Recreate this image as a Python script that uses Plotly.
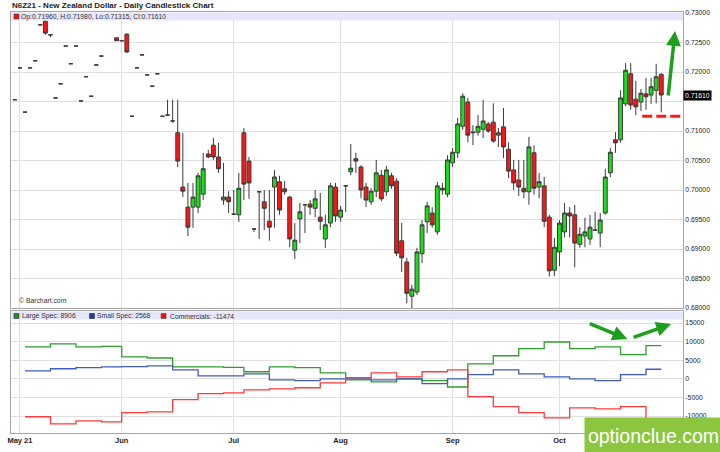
import pandas as pd
import plotly.graph_objects as go

# ---------------- data ----------------
holidays = ['2021-05-31', '2021-07-05', '2021-09-06']
dates = [d.strftime('%Y-%m-%d') for d in pd.bdate_range('2021-04-30', '2021-10-29')
         if d.strftime('%Y-%m-%d') not in holidays]

open_ = [.7153, .7207, .7132, .7207, .7219, .7280, .7286, .7263, .7156, .7180,
         .7244, .7214, .7244, .7151, .7192, .7159, .7212, .7227, None, None,
         .7258, .7253, .7264, .7125, .7207, .7229, .7195, .7176, .7197, .7125,
         .7127, .7117, .7097, .7005, .6971, .6971, .6971, .6993, .7061, .7076,
         .7056, .6983, .6988, .6959, .6958, .7097, .7049, .6934, .6997, .6980,
         .6947, .7005, .7014, .7002, .6988, .6898, .6951, .6975, .6976, .6969,
         .6954, .6917, .6944, .7005, .6954, .7007, .7031, .7053, .7039, .7005,
         .6980, .6998, .7025, .6997, .7024, .7015, .6914, .6878, .6820, .6827,
         .6892, .6946, .6961, .6929, .7003, .6993, .7046, .7063, .7108, .7149,
         .7097, .7098, .7103, .7112, .7115, .7093, .7107, .7069, .7034, .7017,
         .7003, .6997, .7063, .7005, .7007, .6954, .6864, .6895, .6929, .6961,
         .6958, .6908, .6922, .6917, .6932, .6927, .6961, .7029, .7085, .7085,
         .7146, .7197, .7154, .7149, .7163, .7161, .7169, .7196]

high = [.7153, .7207, .7132, .7207, .7219, .7280, .7288, .7263, .7156, .7180,
        .7244, .7214, .7244, .7151, .7192, .7159, .7212, .7227, None, None,
        .7258, .7253, .7266, .7125, .7207, .7229, .7195, .7176, .7197, .7125,
        .7153, .7153, .7153, .7097, .7012, .7012, .7029, .7063, .7068, .7088,
        .7080, .7046, .6998, .7000, .7029, .7105, .7056, .6934, .6997, .7000,
        .7000, .7034, .7024, .7015, .6990, .6944, .6978, .6975, .6983, .7000,
        .6995, .6958, .7012, .7012, .6973, .7008, .7078, .7063, .7042, .7012,
        .7003, .7051, .7034, .7041, .7029, .7020, .6944, .6885, .6839, .6902,
        .6949, .6980, .6971, .7014, .7012, .7059, .7071, .7122, .7164, .7156,
        .7110, .7127, .7153, .7115, .7147, .7105, .7139, .7081, .7051, .7051,
        .7051, .7090, .7076, .7029, .7022, .6958, .6919, .6949, .6978, .6971,
        .6975, .6937, .6953, .6958, .6963, .6961, .7036, .7071, .7098, .7169,
        .7215, .7215, .7185, .7171, .7190, .7190, .7214, .7198]

low = [.7153, .7207, .7132, .7207, .7219, .7280, .7263, .7259, .7156, .7180,
       .7244, .7214, .7244, .7151, .7192, .7159, .7212, .7227, None, None,
       .7253, .7253, .7232, .7125, .7207, .7229, .7195, .7176, .7197, .7125,
       .7127, .7114, .7039, .6988, .6922, .6936, .6961, .6983, .7054, .7051,
       .7029, .6975, .6961, .6958, .6946, .6983, .6985, .6929, .6917, .6932,
       .6914, .6936, .6958, .6992, .6903, .6883, .6910, .6927, .6958, .6954,
       .6932, .6902, .6937, .6946, .6946, .6963, .7025, .7029, .6986, .6971,
       .6975, .6988, .6981, .6990, .7002, .6888, .6861, .6808, .6800, .6822,
       .6876, .6927, .6936, .6924, .6992, .6988, .7039, .7054, .7102, .7081,
       .7076, .7092, .7088, .7097, .7080, .7073, .7054, .7020, .7000, .6990,
       .6986, .6975, .6992, .6986, .6937, .6853, .6854, .6871, .6920, .6920,
       .6869, .6902, .6903, .6907, .6931, .6903, .6958, .7022, .7063, .7080,
       .7142, .7136, .7127, .7134, .7136, .7146, .7147, .71315]

close = [.7153, .7207, .7132, .7207, .7219, .7280, .7266, .7263, .7156, .7180,
         .7244, .7214, .7244, .7151, .7192, .7159, .7212, .7227, None, None,
         .7253, .7253, .7234, .7125, .7207, .7229, .7195, .7176, .7197, .7125,
         .7127, .7117, .7049, .6998, .6937, .6988, .7024, .7036, .7056, .7056,
         .7036, .6988, .6980, .6959, .7003, .7010, .7012, .6934, .6997, .6969,
         .6937, .7022, .6966, .6997, .6917, .6915, .6963, .6975, .6971, .6985,
         .6947, .6941, .7007, .6956, .6966, .7007, .7037, .7049, .7000, .6983,
         .6998, .7029, .6985, .7034, .7007, .6893, .6885, .6825, .6832, .6895,
         .6941, .6973, .6941, .7007, .7000, .7051, .7064, .7112, .7159, .7093,
         .7098, .7108, .7117, .7100, .7083, .7097, .7073, .7032, .7012, .7005,
         .6997, .7073, .7003, .7014, .6947, .6863, .6903, .6944, .6961, .6956,
         .6910, .6925, .6929, .6937, .6932, .6949, .7022, .7064, .7080, .7156,
         .7203, .7144, .7141, .7164, .7158, .7175, .7192, .7161]

cot_dates = ['2021-05-04', '2021-05-11', '2021-05-18', '2021-05-25', '2021-06-01', '2021-06-08',
             '2021-06-15', '2021-06-22', '2021-06-29', '2021-07-06', '2021-07-13', '2021-07-20',
             '2021-07-27', '2021-08-03', '2021-08-10', '2021-08-17', '2021-08-24', '2021-08-31',
             '2021-09-07', '2021-09-14', '2021-09-21', '2021-09-28', '2021-10-05', '2021-10-12',
             '2021-10-19', '2021-10-26']
large_spec = [8600, 9400, 8600, 8700, 5900, 5600, 3200, 3200, 3100, 1900, 3200, 3000, 1600,
              -300, -800, 0, -500, -2200, 4000, 6200, 8100, 9900, 8100, 8600, 6500, 8906]
small_spec = [2150, 2700, 3000, 3200, 3300, 3500, 2400, 800, 800, 1300, -300, -500, 0,
              0, -300, 0, -1300, 0, 1100, 2400, 1300, 500, 0, -500, 1100, 2568]
commercials = [-10200, -12100, -11300, -11600, -9100, -8900, -5600, -4000, -3800, -3000, -2700,
               -2400, -1100, 300, 1600, 500, 1900, 2400, -4800, -7500, -9100, -10500, -7800,
               -8100, -7500, -11474]

month_ticks = ['2021-05-03', '2021-06-01', '2021-07-01', '2021-08-02', '2021-09-01', '2021-10-01']
month_labels = ['May 21', 'Jun', 'Jul', 'Aug', 'Sep', 'Oct']
price_ticks = [0.680, 0.685, 0.690, 0.695, 0.700, 0.705, 0.710, 0.715, 0.720, 0.725, 0.730]
price_labels = ['0.68000', '0.68500', '0.69000', '0.69500', '0.70000', '0.70500', '0.71000',
                '', '0.72000', '0.72500', '0.73000']
cot_ticks = [-10000, -5000, 0, 5000, 10000, 15000]
cot_labels = ['-10000', '-5000', '0', '5000', '10000', '15000']
support_level = 0.7125

# ---------------- layout helpers (pixel -> paper) ----------------
L, R, T, B = 7, 683, 12, 433
def px_x(p):
    return (p - L) / (R - L)
def px_y(p):
    return (B - p) / (B - T)

FONT = 'Liberation Sans, Arial, Helvetica, sans-serif'
GRID = '#e0e0e0'
BORDER = '#a6a6a6'

fig = go.Figure()
fig.add_trace(go.Candlestick(
    x=dates, open=open_, high=high, low=low, close=close,
    increasing=dict(line=dict(color='#3a3a3a', width=1), fillcolor='#16e016'),
    decreasing=dict(line=dict(color='#3a3a3a', width=1), fillcolor='#ff1414'),
    whiskerwidth=0, xaxis='x', yaxis='y', showlegend=False, hoverinfo='skip'))

cot_x = cot_dates + [dates[-1]]
for vals, col in [(large_spec, '#2f9e2f'), (small_spec, '#3f5dbb'), (commercials, '#ff3a3a')]:
    fig.add_trace(go.Scatter(x=cot_x, y=vals + [vals[-1]], mode='lines',
                             line=dict(color=col, width=1.3, shape='hv'),
                             xaxis='x2', yaxis='y2', showlegend=False, hoverinfo='skip'))

xrange = [-0.758, 131.27]
common_x = dict(type='category', categoryorder='array', categoryarray=dates, range=xrange,
                tickvals=month_ticks, ticktext=month_labels, showgrid=True, gridcolor=GRID,
                gridwidth=1, showline=True, mirror=True, linecolor=BORDER, linewidth=1,
                ticks='', zeroline=False, fixedrange=True)

fig.update_layout(
    width=720, height=452, autosize=False,
    margin=dict(l=L, r=720 - R, t=T, b=452 - B, pad=0),
    paper_bgcolor='white', plot_bgcolor='white',
    font=dict(family=FONT, size=7, color='#222'),
    boxgap=0.15, boxgroupgap=0.1,
    xaxis=dict(common_x, domain=[0, 1], anchor='y', showticklabels=False,
               rangeslider=dict(visible=False)),
    xaxis2=dict(common_x, domain=[0, 1], anchor='y2', showticklabels=True,
                tickfont=dict(family=FONT, size=7.5, color='#222', weight='bold')),
    yaxis=dict(domain=[px_y(308), 1], range=[0.68, 0.73017], side='right',
               tickvals=price_ticks, ticktext=price_labels,
               tickfont=dict(family=FONT, size=6.8, color='#222'),
               showgrid=True, gridcolor=GRID, showline=True, mirror=True, linecolor=BORDER,
               ticks='', zeroline=False, fixedrange=True),
    yaxis2=dict(domain=[0, px_y(311)], range=[-14570, 18230], side='right',
                tickvals=cot_ticks, ticktext=cot_labels,
                tickfont=dict(family=FONT, size=6.8, color='#222'),
                showgrid=True, gridcolor=GRID, showline=True, mirror=True, linecolor=BORDER,
                ticks='', zeroline=False, fixedrange=True),
)

shapes = [
    # header bands
    dict(type='rect', xref='paper', yref='paper', x0=0, x1=1, y0=px_y(20.5), y1=px_y(12.5),
         fillcolor='#e6e6fa', line=dict(width=0), layer='above'),
    dict(type='rect', xref='paper', yref='paper', x0=0, x1=1, y0=px_y(319.5), y1=px_y(311.5),
         fillcolor='#e6e6fa', line=dict(width=0), layer='above'),
    # header squares
    dict(type='rect', xref='paper', yref='paper', x0=px_x(10), x1=px_x(15), y0=px_y(19), y1=px_y(14),
         fillcolor='#ee1111', line=dict(color='#444', width=0.6), layer='above'),
    dict(type='rect', xref='paper', yref='paper', x0=px_x(10), x1=px_x(15), y0=px_y(318.5), y1=px_y(313.5),
         fillcolor='#1f8a1f', line=dict(color='#333', width=0.6), layer='above'),
    dict(type='rect', xref='paper', yref='paper', x0=px_x(86), x1=px_x(91), y0=px_y(318.5), y1=px_y(313.5),
         fillcolor='#2a3a8c', line=dict(color='#333', width=0.6), layer='above'),
    dict(type='rect', xref='paper', yref='paper', x0=px_x(158), x1=px_x(163), y0=px_y(318.5), y1=px_y(313.5),
         fillcolor='#ee1111', line=dict(color='#444', width=0.6), layer='above'),
    # support dashed line
    dict(type='line', xref='paper', yref='y', x0=px_x(642), x1=px_x(681),
         y0=support_level, y1=support_level,
         line=dict(color='#ff1a1a', width=3, dash='10px,4px'), layer='above'),
]

small = dict(family=FONT, size=6.8, color='#333')
ann = [
    dict(text='<b>N6Z21 - New Zealand Dollar - Daily Candlestick Chart</b>', xref='paper', yref='paper',
         x=px_x(6), y=px_y(5.5), xanchor='left', yanchor='middle', showarrow=False,
         font=dict(family=FONT, size=8, color='#222')),
    dict(text=f'Op:{open_[-1]:.5f}, H:{high[-1]:.5f}, Lo:{low[-1]:.5f}, Cl:{close[-1]:.5f}',
         xref='paper', yref='paper', x=px_x(15), y=px_y(16.5), xanchor='left', yanchor='middle',
         showarrow=False, font=small),
    dict(text=f'Large Spec: {large_spec[-1]}', xref='paper', yref='paper', x=px_x(16.5), y=px_y(316),
         xanchor='left', yanchor='middle', showarrow=False, font=small),
    dict(text=f'Small Spec: {small_spec[-1]}', xref='paper', yref='paper', x=px_x(92), y=px_y(316),
         xanchor='left', yanchor='middle', showarrow=False, font=small),
    dict(text=f'Commercials: {commercials[-1]}', xref='paper', yref='paper', x=px_x(165), y=px_y(316),
         xanchor='left', yanchor='middle', showarrow=False, font=small),
    dict(text='© Barchart.com', xref='paper', yref='paper', x=px_x(13), y=px_y(300),
         xanchor='left', yanchor='middle', showarrow=False, font=small),
    dict(text=f'{close[-1]:.5f}', xref='paper', yref='y', x=1, y=close[-1], xanchor='left',
         yanchor='middle', showarrow=False, bgcolor='#000000', borderpad=1,
         font=dict(family=FONT, size=6.8, color='#ffffff')),
    # arrows
    dict(text='', xref='paper', yref='paper', x=px_x(675), y=px_y(31), ax=-7, ay=66,
         showarrow=True, arrowhead=2, arrowsize=0.85, arrowwidth=3.5, arrowcolor='#1d9e1d'),
    dict(text='', xref='paper', yref='paper', x=px_x(627), y=px_y(339), ax=-39, ay=-16,
         showarrow=True, arrowhead=2, arrowsize=0.85, arrowwidth=3.5, arrowcolor='#1d9e1d'),
    dict(text='', xref='paper', yref='paper', x=px_x(671), y=px_y(324), ax=-39, ay=14,
         showarrow=True, arrowhead=2, arrowsize=0.85, arrowwidth=3.5, arrowcolor='#1d9e1d'),
    # watermark
    dict(text='optionclue.com', xref='paper', yref='paper', x=px_x(583), y=px_y(417),
         xanchor='left', yanchor='top', width=137, height=35, borderpad=0, bgcolor='#8cc63f',
         showarrow=False, font=dict(family=FONT, size=19.5, color='#ffffff')),
]
fig.update_layout(shapes=shapes, annotations=ann)

fig.write_html('out.html', config={'displayModeBar': False, 'staticPlot': True},
               post_script="document.body.style.margin='0';document.body.style.overflow='hidden';")
